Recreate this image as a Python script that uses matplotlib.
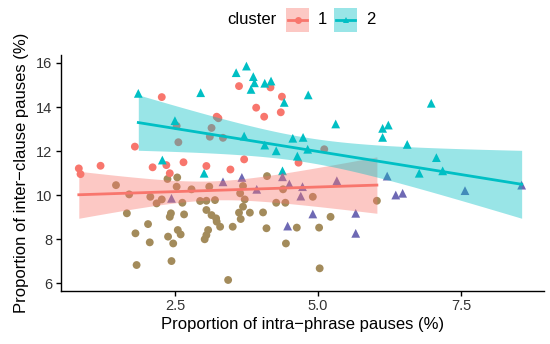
import numpy as np
import matplotlib
matplotlib.use("Agg")
import matplotlib.pyplot as plt
from matplotlib.patches import Rectangle

plt.rcParams['font.family'] = ['Liberation Sans', 'DejaVu Sans']

# cluster 1 (circles): intra-phrase %, inter-clause %
c1_x = [0.82, 0.85, 1.20, 1.47, 1.66, 1.70, 1.80, 1.81, 1.83, 2.03, 2.06, 2.07,
        2.11, 2.18, 2.27, 2.27, 2.35, 2.37, 2.38, 2.41, 2.43, 2.41, 2.44, 2.47,
        2.53, 2.53, 2.54, 2.55, 2.56, 2.60, 2.63, 2.65, 2.66, 2.79, 2.94, 3.02,
        3.05, 3.05, 3.05, 3.05, 3.08, 3.10, 3.11, 3.14, 3.14, 3.20, 3.22, 3.23,
        3.23, 3.26, 3.29, 3.34, 3.43, 3.47, 3.51, 3.62, 3.62, 3.64, 3.65, 3.69,
        3.69, 3.71, 3.72, 3.81, 3.92, 4.04, 4.06, 4.10, 4.11, 4.17, 4.27, 4.35,
        4.37, 4.39, 4.43, 4.44, 4.63, 4.66, 4.91, 5.02, 5.03, 5.11, 5.22, 6.03]
c1_y = [11.21, 10.95, 11.33, 10.45, 9.17, 10.03, 12.20, 8.26, 6.82, 8.68, 7.85, 9.92,
        11.26, 9.62, 14.45, 9.80, 11.36, 10.73, 8.11, 10.99, 9.17, 9.01, 7.00, 7.80,
        13.14, 10.38, 10.80, 8.41, 12.40, 8.21, 9.65, 11.49, 9.12, 10.26, 9.73, 7.99,
        8.18, 9.74, 9.32, 11.32, 8.41, 10.38, 12.65, 13.05, 9.09, 9.77, 8.94, 13.56,
        8.79, 13.49, 8.56, 12.60, 6.14, 11.16, 8.56, 14.95, 9.20, 10.08, 8.91, 10.41,
        9.47, 11.62, 9.80, 9.20, 13.97, 9.21, 13.56, 8.49, 10.86, 14.89, 9.65, 13.76,
        14.47, 10.26, 9.65, 7.80, 8.52, 11.47, 9.92, 8.52, 6.67, 12.08, 9.01, 9.74]

# cluster 2 (triangles)
c2_x = [1.86, 2.28, 2.44, 2.50, 2.95, 3.01, 3.34, 3.57, 3.67, 3.71, 3.75, 3.83,
        3.87, 3.89, 3.93, 4.07, 4.07, 4.18, 4.27, 4.38, 4.38, 4.41, 4.47, 4.50,
        4.56, 4.64, 4.70, 4.73, 4.74, 4.82, 4.83, 4.91, 5.31, 5.33, 5.66, 5.66,
        6.13, 6.13, 6.21, 6.23, 6.36, 6.48, 6.56, 6.77, 6.98, 7.07, 7.18, 7.57, 8.56]
c2_y = [14.62, 11.59, 9.85, 13.38, 14.65, 10.99, 10.60, 15.56, 10.80, 12.68, 15.86, 14.80,
        15.38, 15.10, 10.26, 15.08, 12.27, 15.18, 12.01, 11.10, 10.83, 14.21, 8.59, 10.50,
        12.58, 11.77, 9.95, 10.38, 12.62, 12.08, 14.55, 9.14, 13.23, 10.65, 9.17, 8.26,
        13.03, 12.62, 10.86, 13.18, 10.00, 10.08, 12.30, 10.99, 14.17, 11.70, 11.10, 10.20, 10.45]

clusters = ["1", "2"]
colors = ["#F8766D", "#00BFC4"]
muted = ["#A38B5B", "#6E69B4"]
markers = ["o", "^"]


def smooth(x, y, n=80):
    x = np.asarray(x)
    y = np.asarray(y)
    b, a = np.polyfit(x, y, 1)
    xs = np.linspace(x.min(), x.max(), n)
    ys = a + b * xs
    df = len(x) - 2
    resid = y - (a + b * x)
    s = np.sqrt(np.sum(resid ** 2) / df)
    t = 1.96 + 2.37 / df
    se = s * np.sqrt(1 / len(x) + (xs - x.mean()) ** 2 / np.sum((x - x.mean()) ** 2))
    return xs, ys, ys - t * se, ys + t * se


fig = plt.figure(figsize=(5.5, 3.44), dpi=100)
ax = fig.add_axes([0.110, 0.155, 0.879, 0.684])

data = [(c1_x, c1_y), (c2_x, c2_y)]
for (x, y), c, mc, m in zip(data, colors, muted, markers):
    y = np.asarray(y)
    cols = np.where(y < 10.9, mc, c)
    ax.scatter(x, y, s=32 if m == "o" else 40, c=cols, marker=m,
               linewidths=0, zorder=1)

for i, ((x, y), c) in enumerate(zip(data, colors)):
    xs, ys, lo, hi = smooth(x, y)
    ax.fill_between(xs, lo, hi, color=c, alpha=0.4, linewidth=0, zorder=2 + 2 * i)
    ax.plot(xs, ys, color=c, lw=2, zorder=3 + 2 * i)

ally = np.concatenate([c1_y, c2_y])
dy = (ally.max() - ally.min()) * 0.05
ax.set_xlim(0.50, 8.95)
ax.set_ylim(ally.min() - dy, ally.max() + dy)

ax.set_xticks([2.5, 5.0, 7.5])
ax.set_xticklabels(["2.5", "5.0", "7.5"])
ax.set_yticks([6, 8, 10, 12, 14, 16])
for s in ["top", "right"]:
    ax.spines[s].set_visible(False)
for s in ["left", "bottom"]:
    ax.spines[s].set_linewidth(1.0)
    ax.spines[s].set_color("black")
ax.tick_params(length=3.5, width=1.0, color="black", labelsize=10.5, labelcolor="#333333", pad=2.5)

ax.set_xlabel("Proportion of intra\u2212phrase pauses (%)", fontsize=12, labelpad=3)
ax.set_ylabel("Proportion of inter\u2212clause pauses (%)", fontsize=12, labelpad=5)

# legend strip along the top, in pixel units
lg = fig.add_axes([0, 1 - 52 / 344, 1, 52 / 344])
lg.set_xlim(0, 550)
lg.set_ylim(52, 0)
lg.axis("off")
lg.text(252, 20, "cluster", fontsize=12, ha="center", va="center")
key_x = [286, 334]
for kx, lab, c, m in zip(key_x, clusters, colors, markers):
    lg.add_patch(Rectangle((kx, 8), 23, 24, facecolor=c, alpha=0.4, edgecolor="none"))
    lg.plot([kx + 2, kx + 21], [20, 20], color=c, lw=2)
    lg.plot([kx + 11.5], [20], marker=m, color=c, markersize=5, markeredgewidth=0)
    lg.text(kx + 32, 20, lab, fontsize=12, ha="left", va="center")

fig.savefig("out.png", dpi=100)
